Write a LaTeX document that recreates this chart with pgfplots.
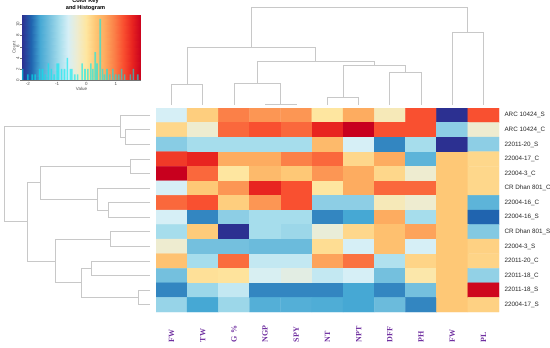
\documentclass[border=0pt]{standalone}
\usepackage{pgfplots}
\pgfplotsset{compat=1.18}
\usepackage{fontspec}
\setmainfont{Liberation Sans}
\newfontfamily\lserif{Liberation Serif}
\definecolor{dendro}{RGB}{200,200,200}
\definecolor{lblpurple}{RGB}{112,48,160}
\definecolor{histcyan}{RGB}{0,235,240}
\pgfplotsset{colormap={rdylbu}{rgb255=(44,48,145) rgb255=(32,100,175) rgb255=(70,168,212) rgb255=(116,192,222) rgb255=(166,221,236) rgb255=(214,239,246) rgb255=(238,236,208) rgb255=(254,230,160) rgb255=(254,200,118) rgb255=(253,172,96) rgb255=(251,128,72) rgb255=(249,80,48) rgb255=(232,36,32) rgb255=(200,0,30)}}
\tikzset{dend/.style={draw=dendro, line width=0.8pt, mark=none, solid}}
\begin{document}
\begin{tikzpicture}
\path[use as bounding box] (0pt,0pt) rectangle (550pt,348pt);

% ---------------- heatmap ----------------
\begin{axis}[at={(156pt,36pt)}, anchor=south west, width=343pt, height=204pt, scale only axis,
  xmin=-0.5, xmax=10.5, ymin=-0.5, ymax=13.5, y dir=reverse,
  axis line style={draw=none}, major tick length=0pt,
  xtick={0,...,10}, xticklabels={FW,TW,G \%,NGP,SPY,NT,NPT,DFF,PH,FW,PL},
  xticklabel style={rotate=90, anchor=east, text width=20pt, align=left, inner sep=0pt,
    font=\lserif\bfseries\fontsize{8}{9}\selectfont, text=lblpurple},
  xticklabel shift=10pt,
  ytick={0,...,13},
  yticklabels={ARC 10424\_S,ARC 10424\_C,22011-20\_S,22004-17\_C,22004-3\_C,CR Dhan 801\_C,22004-16\_C,22004-16\_S,CR Dhan 801\_S,22004-3\_S,22011-20\_C,22011-18\_C,22011-18\_S,22004-17\_S},
  yticklabel pos=right,
  yticklabel style={anchor=west, font=\fontsize{6.3}{7}\selectfont, text=black!85, xshift=2pt},
  colormap name=rdylbu, point meta min=0, point meta max=13]
\addplot[matrix plot*, mesh/cols=11, point meta=explicit] coordinates {
(0,0)[5] (1,0)[7.8] (2,0)[10] (3,0)[9.5] (4,0)[9.5] (5,0)[7] (6,0)[9] (7,0)[6.5] (8,0)[11] (9,0)[0] (10,0)[11]
(0,1)[7.5] (1,1)[6] (2,1)[10.5] (3,1)[11] (4,1)[10.5] (5,1)[12] (6,1)[13] (7,1)[11] (8,1)[11] (9,1)[3.5] (10,1)[6]
(0,2)[3.4] (1,2)[4] (2,2)[4] (3,2)[4] (4,2)[4] (5,2)[8.5] (6,2)[5] (7,2)[1.5] (8,2)[4] (9,2)[0] (10,2)[3.5]
(0,3)[11.5] (1,3)[12] (2,3)[9] (3,3)[9] (4,3)[10] (5,3)[10.5] (6,3)[7.5] (7,3)[9] (8,3)[2.5] (9,3)[8] (10,3)[7.5]
(0,4)[13] (1,4)[10.5] (2,4)[7] (3,4)[8.5] (4,4)[8] (5,4)[9.5] (6,4)[9] (7,4)[7.5] (8,4)[6] (9,4)[8] (10,4)[7.5]
(0,5)[5] (1,5)[8] (2,5)[9.5] (3,5)[12] (4,5)[11] (5,5)[7] (6,5)[9] (7,5)[10.5] (8,5)[10.5] (9,5)[8] (10,5)[7.5]
(0,6)[10.5] (1,6)[11] (2,6)[7.8] (3,6)[9.5] (4,6)[11] (5,6)[3.5] (6,6)[3.5] (7,6)[6.5] (8,6)[6] (9,6)[8] (10,6)[2.5]
(0,7)[5] (1,7)[1.5] (2,7)[3.5] (3,7)[4] (4,7)[4] (5,7)[1.5] (6,7)[2] (7,7)[9] (8,7)[4] (9,7)[8] (10,7)[1]
(0,8)[4] (1,8)[7.9] (2,8)[0] (3,8)[4] (4,8)[3.8] (5,8)[5.8] (6,8)[7.5] (7,8)[8.3] (8,8)[9.2] (9,8)[8] (10,8)[3.3]
(0,9)[6] (1,9)[3] (2,9)[3] (3,9)[2.8] (4,9)[2.8] (5,9)[7.3] (6,9)[5] (7,9)[8.3] (8,9)[5] (9,9)[8] (10,9)[7.7]
(0,10)[8.2] (1,10)[4] (2,10)[10.4] (3,10)[4.6] (4,10)[4.6] (5,10)[9.2] (6,10)[10.3] (7,10)[4.2] (8,10)[7.6] (9,10)[8] (10,10)[7.6]
(0,11)[3] (1,11)[7.2] (2,11)[7.1] (3,11)[5.1] (4,11)[5.5] (5,11)[4.6] (6,11)[5] (7,11)[3] (8,11)[6.8] (9,11)[8] (10,11)[3.6]
(0,12)[1.5] (1,12)[3.8] (2,12)[4.6] (3,12)[1.5] (4,12)[1.5] (5,12)[1.5] (6,12)[2] (7,12)[1.5] (8,12)[3] (9,12)[8] (10,12)[12.8]
(0,13)[3.7] (1,13)[2] (2,13)[3.8] (3,13)[2.3] (4,13)[2.3] (5,13)[2.2] (6,13)[2] (7,13)[2.8] (8,13)[1.5] (9,13)[8] (10,13)[7.7]
};
\end{axis}

% ---------------- top dendrogram (columns) ----------------
\begin{axis}[at={(156pt,240pt)}, anchor=south west, width=343pt, height=108pt, scale only axis,
  xmin=-0.5, xmax=10.5, ymin=0, ymax=108, hide axis, clip=false]
\addplot[dend] coordinates {(3,3) (3,4) (4,4) (4,3)};
\addplot[dend] coordinates {(0,3) (0,23.7) (1,23.7) (1,3)};
\addplot[dend] coordinates {(2,3) (2,24.7) (3.5,24.7) (3.5,4)};
\addplot[dend] coordinates {(5,3) (5,10.3) (6,10.3) (6,3)};
\addplot[dend] coordinates {(7,3) (7,35.3) (8,35.3) (8,3)};
\addplot[dend] coordinates {(5.5,10.3) (5.5,42.3) (7.5,42.3) (7.5,35.3)};
\addplot[dend] coordinates {(2.75,24.7) (2.75,46.7) (6.5,46.7) (6.5,42.3)};
\addplot[dend] coordinates {(0.5,23.7) (0.5,60.7) (4.625,60.7) (4.625,46.7)};
\addplot[dend] coordinates {(9,3) (9,75.3) (10,75.3) (10,3)};
\addplot[dend] coordinates {(2.5625,60.7) (2.5625,100.7) (9.5,100.7) (9.5,75.3)};
\end{axis}

% ---------------- left dendrogram (rows) ----------------
\begin{axis}[at={(0pt,36pt)}, anchor=south west, width=150pt, height=204pt, scale only axis,
  xmin=0, xmax=150, ymin=-0.5, ymax=13.5, y dir=reverse, hide axis, clip=false]
\addplot[dend] coordinates {(150,1) (125,1) (125,2) (150,2)};
\addplot[dend] coordinates {(150,0) (120.7,0) (120.7,1.5) (125,1.5)};
\addplot[dend] coordinates {(150,3) (130.7,3) (130.7,4) (150,4)};
\addplot[dend] coordinates {(150,6) (108.3,6) (108.3,7) (150,7)};
\addplot[dend] coordinates {(150,5) (97.3,5) (97.3,6.5) (108.3,6.5)};
\addplot[dend] coordinates {(130.7,3.5) (40.7,3.5) (40.7,5.75) (97.3,5.75)};
\addplot[dend] coordinates {(150,8) (110.7,8) (110.7,9) (150,9)};
\addplot[dend] coordinates {(150,10) (91,10) (91,11) (150,11)};
\addplot[dend] coordinates {(150,12) (138.3,12) (138.3,13) (150,13)};
\addplot[dend] coordinates {(91,10.5) (81,10.5) (81,12.5) (138.3,12.5)};
\addplot[dend] coordinates {(110.7,8.5) (55,8.5) (55,11.5) (81,11.5)};
\addplot[dend] coordinates {(40.7,4.625) (27.3,4.625) (27.3,10) (55,10)};
\addplot[dend] coordinates {(120.7,0.75) (4.3,0.75) (4.3,7.3125) (27.3,7.3125)};
\end{axis}

% ---------------- colour key with histogram ----------------
\begin{axis}[at={(22pt,268pt)}, anchor=south west, width=119pt, height=65pt, scale only axis,
  xmin=-2.2, xmax=1.86, ymin=0, ymax=11.7,
  axis x line*=bottom, axis y line*=left, axis line style={draw=black!55, line width=0.3pt},
  tick align=outside, major tick length=1.5pt, tick style={black!55, line width=0.3pt},
  xtick={-2,-1,0,1}, ytick={0,2,4,6,8,10},
  /pgf/number format/assume math mode=true,
  ticklabel style={font=\fontsize{4.5}{5}\selectfont, text=black!70, inner sep=1pt},
  yticklabel style={rotate=90, anchor=south},
  xlabel={Value}, ylabel={Count},
  xlabel style={font=\fontsize{4.5}{5}\selectfont, text=black!70, yshift=3pt},
  ylabel style={font=\fontsize{4.5}{5}\selectfont, text=black!70, yshift=-4pt},
  title={Color Key\\and Histogram},
  title style={align=center, font=\bfseries\fontsize{5.6}{6.4}\selectfont, yshift=-5pt, xshift=4pt},
  colormap name=rdylbu, point meta min=-2.2, point meta max=1.86]
\addplot[surf, shader=interp, mesh/rows=2, point meta=x] coordinates {
(-2.2,0) (-1.888,0) (-1.575,0) (-1.263,0) (-0.951,0) (-0.638,0) (-0.326,0) (-0.014,0) (0.298,0) (0.611,0) (0.923,0) (1.235,0) (1.548,0) (1.86,0)
(-2.2,11.7) (-1.888,11.7) (-1.575,11.7) (-1.263,11.7) (-0.951,11.7) (-0.638,11.7) (-0.326,11.7) (-0.014,11.7) (0.298,11.7) (0.611,11.7) (0.923,11.7) (1.235,11.7) (1.548,11.7) (1.86,11.7)
};
\addplot[ybar, bar width=1.6pt, fill=histcyan, draw=none, fill opacity=0.6] coordinates {
(-2.18,2) (-2.0,1) (-1.85,1) (-1.75,1) (-1.6,2) (-1.5,2) (-1.4,1) (-1.3,3) (-1.2,2) (-1.1,1)
(-1.0,3) (-0.95,3) (-0.85,2) (-0.75,2) (-0.65,4) (-0.55,2) (-0.5,2) (-0.4,1) (-0.3,1) (-0.15,3)
(-0.05,2) (0.05,2) (0.15,3) (0.22,2) (0.3,5) (0.36,3) (0.47,11) (0.55,2) (0.62,1) (0.7,2)
(0.8,1) (0.9,2) (1.0,1) (1.1,1) (1.2,2) (1.3,1) (1.5,1) (1.6,2) (1.75,1)
};
\end{axis}
\end{tikzpicture}
\end{document}
